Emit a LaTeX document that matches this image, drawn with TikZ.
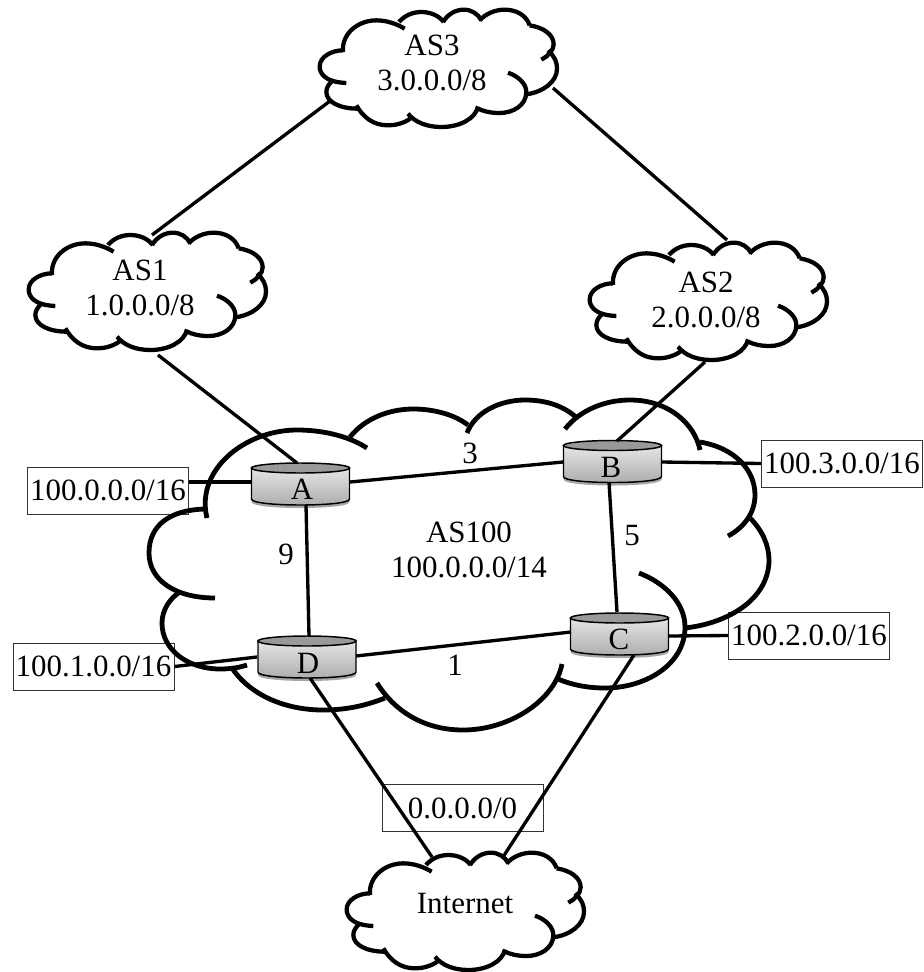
\documentclass[tikz,border=0pt]{standalone}
\usepackage{fontspec}
\setmainfont{Liberation Serif}
\tikzset{
  x=0.75pt,y=-0.75pt,
  lab/.style={inner sep=0pt,font=\fontsize{23.2}{26.25}\selectfont,align=center},
  prefixbox/.style={lab,draw=black!80,line width=0.75pt,fill=white,minimum width=120.75pt,minimum height=35.25pt},
  link/.style={line width=2.5pt,black},
  bigline/.style={line width=3.6pt,black},
  smallline/.style={line width=3.2pt,black},
  smallcloud/.pic={
    \begin{scope}[x=0.25pt,y=-0.25pt,smallline]
      \draw (100,228) .. controls (30,225) and (20,195) .. (20,178) .. controls (20,150) and (55,130) .. (90,130);
      \draw (90,135) .. controls (85,80) and (135,40) .. (190,40) .. controls (220,40) and (250,50) .. (275,65);
      \draw (258,45) .. controls (275,25) and (300,15) .. (325,15) .. controls (355,15) and (380,28) .. (392,45);
      \draw (390,45) .. controls (405,20) and (430,8) .. (452,8) .. controls (475,8) and (495,20) .. (505,40);
      \draw (500,40) .. controls (520,18) and (550,8) .. (575,8) .. controls (610,8) and (640,25) .. (650,55);
      \draw (650,55) .. controls (695,62) and (722,85) .. (722,112) .. controls (722,130) and (705,148) .. (685,158);
      \draw (705,130) .. controls (725,148) and (732,165) .. (732,185) .. controls (732,225) and (690,255) .. (640,262);
      \draw (585,197) .. controls (615,207) and (640,230) .. (640,255) .. controls (640,295) and (600,318) .. (560,318) .. controls (530,318) and (510,312) .. (495,305);
      \draw (495,298) .. controls (488,335) and (440,360) .. (385,360) .. controls (340,360) and (305,345) .. (285,320);
      \draw (292,335) .. controls (270,350) and (245,355) .. (225,355) .. controls (180,355) and (150,330) .. (130,295);
      \draw (135,305) .. controls (80,305) and (40,285) .. (40,255) .. controls (40,243) and (47,232) .. (55,225);
    \end{scope}
  },
  routershape/.pic={
    \fill[black!35] (-49,-13) -- (-49,18) .. controls (-49,22) and (-25,24) .. (0,24) .. controls (25,24) and (49,22) .. (49,18) -- (49,-13) -- cycle;
    \draw[line width=1.1pt,top color=black!10,bottom color=black!32]
      (-49,-16) -- (-49,15) .. controls (-49,19) and (-25,21) .. (0,21) .. controls (25,21) and (49,19) .. (49,15) -- (49,-16) -- cycle;
    \draw[line width=1.1pt,fill=black!40]
      (-49,-16) .. controls (-49,-19) and (-25,-21) .. (0,-21) .. controls (25,-21) and (49,-19) .. (49,-16) .. controls (49,-13) and (25,-11) .. (0,-11) .. controls (-25,-11) and (-49,-13) .. (-49,-16) -- cycle;
  }
}
\begin{document}
\begin{tikzpicture}
\useasboundingbox (0,0) rectangle (924,972);
\fill[white] (0,0) rectangle (924,972);

% prefix boxes
\node[prefixbox] (p0) at (108,490.5) {100.0.0.0/16};
\node[prefixbox] (p1) at (93.5,666.5) {100.1.0.0/16};
\node[prefixbox] (p3) at (842,463.5) {100.3.0.0/16};
\node[prefixbox] (p2) at (809,635.5) {100.2.0.0/16};
\node[prefixbox] (pd) at (462.5,808) {0.0.0.0/0};

% AS100 cloud
\begin{scope}[bigline]
  \draw (215,598) .. controls (175,598) and (149,580) .. (149,553) .. controls (149,525) and (170,510) .. (205,509);
  \draw (207,518) .. controls (195,470) and (245,430) .. (297,430) .. controls (325,430) and (350,437) .. (367,448);
  \draw (350,437) .. controls (365,418) and (390,409) .. (413,409) .. controls (435,409) and (455,415) .. (468,425);
  \draw (467,433) .. controls (475,412) and (500,400) .. (525,400) .. controls (548,400) and (565,407) .. (577,418);
  \draw (565,429) .. controls (580,410) and (605,400) .. (630,400) .. controls (670,400) and (695,425) .. (700,450);
  \draw (700,442) .. controls (735,448) and (755,470) .. (755,495) .. controls (755,512) and (745,527) .. (728,536);
  \draw (750,518) .. controls (762,530) and (769,545) .. (769,560) .. controls (769,598) and (730,623) .. (685,628);
  \draw (639,573) .. controls (665,583) and (685,603) .. (685,627) .. controls (685,665) and (645,688) .. (605,688) .. controls (588,688) and (572,685) .. (558,679);
  \draw (562,664) .. controls (555,700) and (510,730) .. (463,730) .. controls (425,730) and (395,712) .. (377,683);
  \draw (385,698) .. controls (365,706) and (345,710) .. (323,710) .. controls (285,710) and (250,695) .. (232,668);
  \draw (247,665) .. controls (238,668) and (229,669) .. (220,669) .. controls (188,669) and (162,650) .. (162,623) .. controls (162,610) and (170,598) .. (180,592);
\end{scope}

% small clouds
\pic at (22,230) {smallcloud};
\pic at (583,240) {smallcloud};
\pic at (313,7) {smallcloud};
\pic at (340,850) {smallcloud};

% routers
\pic at (300.5,484) {routershape};
\pic at (307,657) {routershape};
\pic at (612.5,461.5) {routershape};
\pic at (619.5,634) {routershape};

% text nodes
\node[lab] (AS1) at (140,288) {AS1\\1.0.0.0/8};
\node[lab] (AS2) at (706,300) {AS2\\2.0.0.0/8};
\node[lab] (AS3) at (432,63) {AS3\\3.0.0.0/8};
\node[lab] (net) at (465,904) {Internet};
\node[lab] (as100) at (469,550) {AS100\\100.0.0.0/14};
\node[lab] (A) at (302,489) {A};
\node[lab] (D) at (308,663) {D};
\node[lab] (B) at (611,467) {B};
\node[lab] (C) at (619,639) {C};
\node[lab] (w3) at (470,453) {3};
\node[lab] (w9) at (286,554) {9};
\node[lab] (w5) at (632,536) {5};
\node[lab] (w1) at (455,665) {1};

% connectors
\draw[link] ([shift={(-102,38)}]AS3.center) -- ([shift={(12,-53)}]AS1.center);
\draw[link] ([shift={(121,25)}]AS3.center) -- ([shift={(21,-60)}]AS2.center);
\draw[link] ([shift={(18,67)}]AS1.center) -- ([shift={(-5,-26)}]A.center);
\draw[link] ([shift={(-1,62)}]AS2.center) -- ([shift={(6,-26)}]B.center);
\draw[link] ([shift={(48,-7)}]A.center) -- ([shift={(-48,-5)}]B.center);
\draw[link] ([shift={(4,16)}]A.center) -- ([shift={(1,-27)}]D.center);
\draw[link] ([shift={(-2,15)}]B.center) -- ([shift={(-2,-27)}]C.center);
\draw[link] ([shift={(48,-7)}]D.center) -- ([shift={(-48,-7)}]C.center);
\draw[link] (p0.east |- 0,482) -- ([shift={(-50,-7)}]A.center);
\draw[link] ([shift={(0,0)}]p1.east) -- ([shift={(-51,-6)}]D.center);
\draw[link] ([shift={(51,-5)}]B.center) -- ([shift={(0,0)}]p3.west);
\draw[link] ([shift={(49,-3)}]C.center) -- (p2.west);
\draw[link] ([shift={(2,15)}]D.center) -- ([shift={(-33,-47)}]net.center);
\draw[link] ([shift={(15,16)}]C.center) -- ([shift={(38,-47)}]net.center);
\end{tikzpicture}
\end{document}
